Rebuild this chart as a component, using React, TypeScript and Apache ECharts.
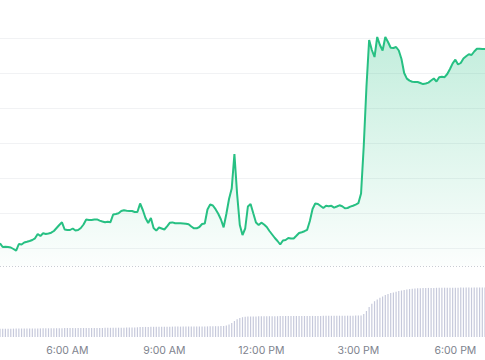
import { useEffect, useRef } from "react";
import * as echarts from "echarts";

// Time categories: 5-minute steps starting 3:55 AM
const START_MINUTES = 3 * 60 + 55;
const STEP_MINUTES = 5;

const TIME_LABELS = ["6:00 AM", "9:00 AM", "12:00 PM", "3:00 PM", "6:00 PM"];

const PRICE = [
  39.7, 36, 36.3, 36, 35.5, 34, 32.3, 39, 38.5, 40.5,
  41.2, 42, 43, 44.7, 49, 47, 49.7, 49, 49.5, 50.3,
  52, 55, 58, 60.7, 53.5, 53, 53, 54.5, 52.5, 53,
  55, 58.5, 63.5, 63, 63, 63.5, 63.6, 62.4, 61.5, 60.7,
  61.3, 60.8, 68.5, 69, 69.8, 72, 72.7, 72.2, 72, 72,
  71, 71, 79.5, 73, 65, 60, 65, 55, 52.4, 55.5,
  54.5, 53.5, 56.7, 60.2, 60.6, 59.7, 59.7, 59.7, 59.5, 59.2,
  58.7, 56.5, 54.7, 54.7, 56, 59, 59.5, 73.5, 78.5, 77.5,
  73.8, 69.2, 63.5, 55.7, 69, 84, 94.5, 129, 89, 58,
  48, 54.5, 76.5, 79, 69.7, 60.5, 58, 60.3, 58.5, 56,
  52, 48.5, 45, 42, 38.5, 42.5, 43, 45, 44.5, 44.5,
  47.2, 50, 50.8, 51.8, 53.2, 62, 74, 79.5, 79, 77,
  75, 77.2, 76.7, 77.2, 75.4, 76.5, 77.7, 76.7, 74.8, 75,
  76.4, 77.3, 78.4, 79.8, 89.5, 137, 196, 243, 233, 226,
  246, 238, 232.5, 246, 241, 235.3, 235, 236, 232.5, 224,
  210, 204.4, 202.4, 201.3, 201.1, 201, 200, 198.9, 199.5, 200.4,
  202.5, 204.5, 201.5, 205.7, 206.3, 205.8, 209, 214, 219.6, 223.3,
  218.5, 220, 224.5, 226.7, 228.7, 228, 231.5, 234.2, 234.3, 234,
  234,
];

const VOLUME = [
  8.2, 8.2, 8.3, 8.3, 8.3, 8.4, 8.4, 8.4, 8.5, 8.5,
  8.5, 8.5, 8.6, 8.6, 8.6, 8.6, 8.7, 8.7, 8.7, 8.7,
  8.8, 8.8, 8.8, 8.8, 8.9, 8.9, 8.9, 8.9, 8.9, 9.0,
  9.0, 9.0, 9.0, 9.0, 9.1, 9.1, 9.1, 9.1, 9.1, 9.2,
  9.2, 9.2, 9.2, 9.3, 9.3, 9.3, 9.3, 9.4, 9.4, 9.5,
  9.6, 9.7, 9.9, 10.0, 10.1, 10.1, 10.2, 10.2, 10.2, 10.3,
  10.3, 10.3, 10.3, 10.3, 10.4, 10.4, 10.4, 10.4, 10.4, 10.5,
  10.5, 10.5, 10.5, 10.5, 10.6, 10.6, 10.6, 10.6, 10.7, 10.7,
  10.8, 10.8, 10.9, 11.0, 11.5, 12.5, 14.0, 16.0, 17.8, 19.0,
  19.8, 20.2, 20.4, 20.5, 20.6, 20.6, 20.7, 20.7, 20.7, 20.8,
  20.8, 20.8, 20.8, 20.8, 20.9, 20.9, 20.9, 20.9, 20.9, 21.0,
  21.0, 21.0, 21.0, 21.0, 21.0, 21.1, 21.1, 21.1, 21.1, 21.1,
  21.2, 21.2, 21.2, 21.2, 21.2, 21.2, 21.3, 21.3, 21.3, 21.3,
  21.3, 21.3, 21.4, 21.4, 21.5, 23.0, 26.0, 30.0, 33.3, 35.8,
  37.6, 39.2, 40.6, 41.9, 43.0, 43.9, 44.6, 45.3, 45.9, 46.5,
  47.0, 47.5, 47.9, 48.2, 48.5, 48.7, 48.8, 48.9, 49.0, 49.1,
  49.1, 49.1, 49.2, 49.2, 49.2, 49.3, 49.3, 49.3, 49.3, 49.3,
  49.3, 49.4, 49.4, 49.4, 49.4, 49.4, 49.4, 49.4, 49.4, 49.4,
  49.4,
];

const GRID_INTERVAL = 35;
const BASE_LEVEL = 17;

function formatTime(totalMinutes: number): string {
  const h = Math.floor(totalMinutes / 60) % 24;
  const m = totalMinutes % 60;
  const suffix = h < 12 ? "AM" : "PM";
  const h12 = h % 12 === 0 ? 12 : h % 12;
  return `${h12}:${String(m).padStart(2, "0")} ${suffix}`;
}

const CATEGORIES = PRICE.map((_, i) => formatTime(START_MINUTES + i * STEP_MINUTES));

export default function App() {
  const ref = useRef<HTMLDivElement>(null);

  useEffect(() => {
    if (!ref.current) return;
    const chart = echarts.init(ref.current, null, { renderer: "svg" });
    const green = "#27c083";
    chart.setOption({
      animation: false,
      grid: [
        { left: 0, right: 0, top: 3, bottom: 77 },
        { left: 0, right: 0, top: 280, bottom: 23 },
      ],
      xAxis: [
        {
          type: "category",
          gridIndex: 0,
          data: CATEGORIES,
          boundaryGap: false,
          axisLine: { show: false },
          axisTick: { show: false },
          axisLabel: { show: false },
          splitLine: { show: false },
        },
        {
          type: "category",
          gridIndex: 1,
          data: CATEGORIES,
          boundaryGap: false,
          axisLine: { show: false },
          axisTick: { show: false },
          splitLine: { show: false },
          axisLabel: {
            interval: (_i: number, v: string) => TIME_LABELS.includes(v),
            color: "#7e838e",
            fontSize: 10.5,
            fontFamily: "Inter, 'Noto Sans', sans-serif",
            margin: 8,
          },
        },
      ],
      yAxis: [
        {
          type: "value",
          gridIndex: 0,
          min: 0,
          max: 280,
          interval: GRID_INTERVAL,
          axisLine: { show: false },
          axisTick: { show: false },
          axisLabel: { show: false },
          splitLine: {
            show: true,
            showMinLine: false,
            showMaxLine: false,
            lineStyle: { color: "#f1f2f4", width: 1 },
          },
        },
        {
          type: "value",
          gridIndex: 1,
          min: 0,
          max: 57,
          show: false,
          splitLine: { show: false },
        },
      ],
      series: [
        {
          type: "line",
          xAxisIndex: 0,
          yAxisIndex: 0,
          data: PRICE,
          symbol: "none",
          z: 3,
          lineStyle: { color: green, width: 2 },
          areaStyle: {
            origin: BASE_LEVEL,
            color: new echarts.graphic.LinearGradient(0, 0, 0, 1, [
              { offset: 0, color: "rgba(39,192,131,0.40)" },
              { offset: 1, color: "rgba(39,192,131,0.02)" },
            ]),
          },
          markLine: {
            silent: true,
            symbol: "none",
            label: { show: false },
            lineStyle: { color: "#c9ccd3", type: [1, 2], width: 1 },
            data: [{ yAxis: BASE_LEVEL }],
          },
        },
        {
          type: "bar",
          xAxisIndex: 1,
          yAxisIndex: 1,
          data: VOLUME,
          barWidth: 1.2,
          itemStyle: { color: "#c6c9db" },
        },
      ],
    });
    return () => chart.dispose();
  }, []);

  return (
    <div
      ref={ref}
      style={{ position: "absolute", left: 0, top: 0, width: 485, height: 360 }}
    />
  );
}
